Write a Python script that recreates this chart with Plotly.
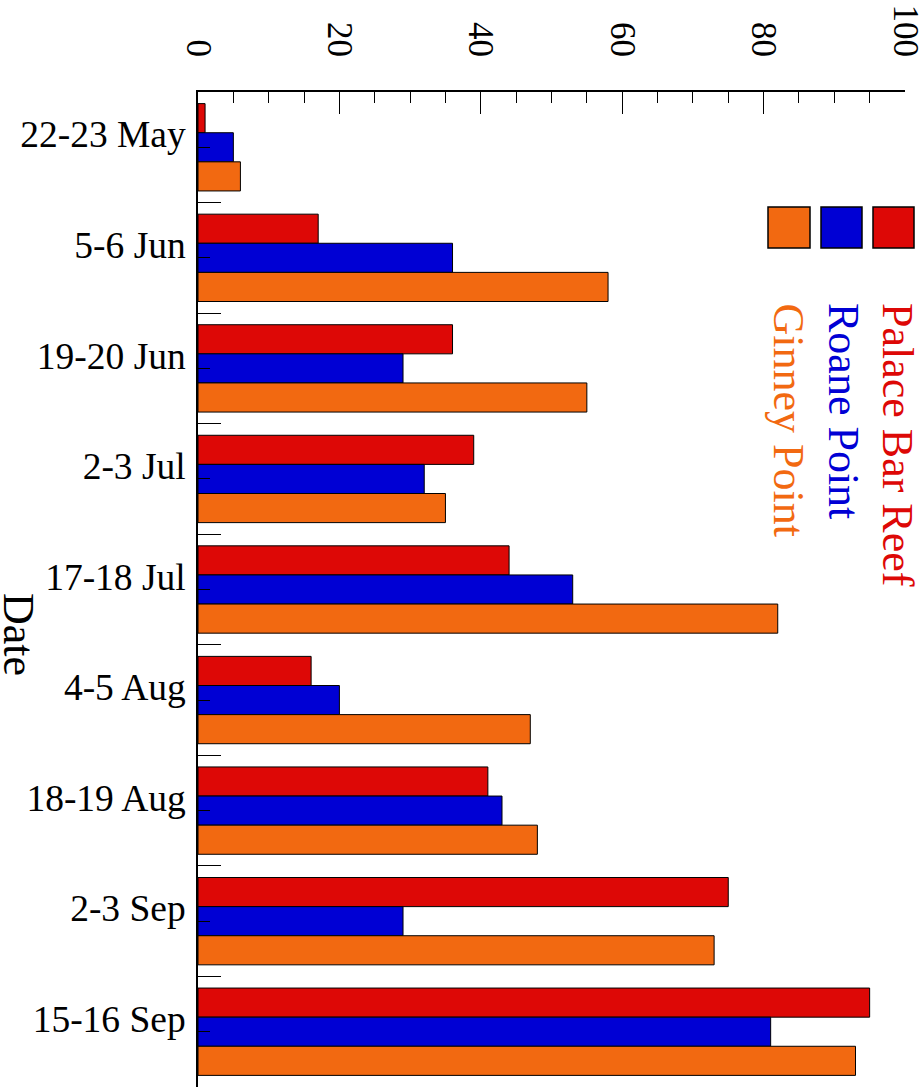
import plotly.graph_objects as go

dates = ["22-23 May", "5-6 Jun", "19-20 Jun", "2-3 Jul", "17-18 Jul",
         "4-5 Aug", "18-19 Aug", "2-3 Sep", "15-16 Sep"]
palace_bar_reef = [1, 17, 36, 39, 44, 16, 41, 75, 95]
roane_point = [5, 36, 29, 32, 53, 20, 43, 29, 81]
ginney_point = [6, 58, 55, 35, 82, 47, 48, 73, 93]
series_names = ["Palace Bar Reef", "Roane Point", "Ginney Point"]
colors = ["#DD0806", "#0000D4", "#F26911"]
x_ticks = [0, 20, 40, 60, 80, 100]

FONT = "Liberation Serif, Times New Roman, serif"
W, H = 921, 1089
L, R, T, B = 198, 16, 92, 2
pw, ph = W - L - R, H - T - B

def px_x(p):
    return (p - L) / pw

def px_y(p):
    return 1 - (p - T) / ph

fig = go.Figure()
for name, vals, col in zip(series_names, [palace_bar_reef, roane_point, ginney_point], colors):
    fig.add_trace(go.Bar(
        y=dates, x=vals, name=name, orientation="h",
        marker=dict(color=col, line=dict(color="black", width=1)),
        showlegend=False,
    ))

fig.update_layout(
    width=W, height=H,
    margin=dict(l=L, r=R, t=T, b=B, autoexpand=False),
    paper_bgcolor="white", plot_bgcolor="white",
    barmode="group", bargap=0.21, bargroupgap=0,
    font=dict(family=FONT, color="black"),
    xaxis=dict(
        side="top", range=[0, 100], tickvals=x_ticks,
        tickangle=90, tickfont=dict(size=35, family=FONT),
        ticks="inside", ticklen=22, tickwidth=1, tickcolor="black",
        minor=dict(dtick=5, tick0=0, ticks="inside", ticklen=11, tickwidth=1, tickcolor="black", showgrid=False),
        showline=True, linecolor="black", linewidth=1.5,
        showgrid=False, zeroline=False, ticklabelstandoff=21, automargin=False,
        ticklabeloverflow="allow",
    ),
    yaxis=dict(
        type="category", categoryorder="array", categoryarray=dates,
        range=[8.5, -0.5],
        ticks="inside", ticklen=12, tickwidth=1, tickcolor="black",
        tickfont=dict(size=37.5, family=FONT),
        showline=True, linecolor="black", linewidth=1.5,
        showgrid=False, zeroline=False, ticklabelstandoff=3, ticklabelshift=13,
        automargin=False, ticklabeloverflow="allow",
    ),
    yaxis2=dict(
        overlaying="y", anchor="x", side="left", type="linear",
        range=[8.5, -0.5], tickvals=[i + 0.5 for i in range(-1, 9)],
        ticks="inside", ticklen=23, tickwidth=1, tickcolor="black",
        showticklabels=False, showgrid=False, zeroline=False, showline=False,
        automargin=False,
    ),
)

# invisible trace to activate yaxis2
fig.add_trace(go.Scatter(x=[0], y=[0], yaxis="y2", mode="markers",
                         marker=dict(opacity=0), showlegend=False, hoverinfo="skip"))

# Legend: swatches + rotated labels
sw_x = [(873, 914), (821, 862), (768, 810)]
text_x = [898, 844, 788]
for (x0, x1), tx, name, col in zip(sw_x, text_x, series_names, colors):
    fig.add_shape(type="rect", xref="paper", yref="paper",
                  x0=px_x(x0), x1=px_x(x1), y0=px_y(248), y1=px_y(207),
                  fillcolor=col, line=dict(color="black", width=1.5))
    fig.add_annotation(text=name, xref="paper", yref="paper",
                       x=px_x(tx), y=px_y(301), xanchor="center", yanchor="top",
                       textangle=90, showarrow=False,
                       font=dict(size=44, family=FONT, color=col))

fig.add_annotation(text="Date", xref="paper", yref="paper",
                   x=px_x(19), y=px_y(635), xanchor="center", yanchor="middle",
                   textangle=90, showarrow=False,
                   font=dict(size=44, family=FONT, color="black"))

fig.write_html("out.html", config={"displayModeBar": False},
               post_script="document.body.style.margin='0';document.body.style.overflow='hidden';")
